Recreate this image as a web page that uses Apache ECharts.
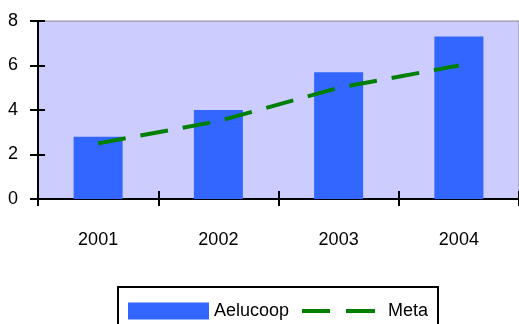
<!DOCTYPE html>
<html>
<head>
<meta charset="utf-8">
<script src="https://cdn.jsdelivr.net/npm/echarts@6/dist/echarts.min.js"></script>
<style>
  html, body { margin: 0; padding: 0; background: #fff; }
  #chart { width: 519px; height: 324px; }
</style>
</head>
<body>
<div id="chart"></div>
<script>
const years = ['2001', '2002', '2003', '2004']
const aelucoop = [2.8, 4.0, 5.7, 7.3]
const meta = [2.5, 3.5, 5.0, 6.0]
const yTicks = [0, 2, 4, 6, 8]

const font = "'Liberation Sans', Arial, sans-serif"
const tickStyle = { color: '#000', width: 2 }
const gridBox = { left: 38, top: 21, right: 0, bottom: 125 }
const plotWidth = 519 - gridBox.left - gridBox.right
const chart = echarts.init(document.getElementById('chart'))

chart.setOption({
  animation: false,
  textStyle: { fontFamily: font },
  grid: [
    Object.assign({
      show: true,
      backgroundColor: '#CCCCFF',
      borderColor: '#888888',
      borderWidth: 1
    }, gridBox),
    // same box again, carries the outer half of the crossing ticks
    Object.assign({ show: false }, gridBox)
  ],
  // box round the two legends
  graphic: [
    {
      type: 'rect',
      shape: { x: 118, y: 287, width: 320, height: 50 },
      style: { fill: '#fff', stroke: '#000', lineWidth: 2 },
      z: 0
    }
  ],
  legend: [
    {
      data: [{ name: 'Aelucoop', icon: 'rect' }],
      left: 123,
      top: 297,
      padding: 5,
      itemWidth: 81,
      itemHeight: 17,
      textStyle: { fontFamily: font, fontSize: 18, color: '#000' }
    },
    {
      data: [{ name: 'Meta', icon: 'path://M0,0H28V4H0Z M44,0H73V4H44Z' }],
      left: 297,
      top: 297,
      padding: 5,
      itemWidth: 73,
      itemHeight: 4,
      itemStyle: { color: '#008000' },
      textStyle: { fontFamily: font, fontSize: 18, color: '#000', padding: [0, 0, 0, 8] }
    }
  ],
  xAxis: [
    {
      type: 'category',
      gridIndex: 0,
      data: years,
      position: 'bottom',
      axisLine: { show: true, lineStyle: tickStyle },
      axisTick: { show: true, inside: true, length: 8, lineStyle: tickStyle },
      axisLabel: { fontFamily: font, fontSize: 18, color: '#000', margin: 32 },
      splitLine: { show: false }
    },
    {
      // placed on top but pulled down onto zero, its inside ticks point down
      type: 'category',
      gridIndex: 1,
      data: years,
      position: 'top',
      axisLine: { show: true, onZero: true, lineStyle: tickStyle },
      axisTick: { show: true, inside: true, length: 7, lineStyle: tickStyle },
      axisLabel: { show: false },
      splitLine: { show: false }
    }
  ],
  yAxis: [
    {
      type: 'value',
      gridIndex: 0,
      min: yTicks[0],
      max: yTicks[yTicks.length - 1],
      interval: 2,
      position: 'left',
      axisLine: { show: true, lineStyle: tickStyle },
      axisTick: { show: true, inside: true, length: 7, lineStyle: tickStyle },
      axisLabel: { fontFamily: font, fontSize: 18, color: '#000', margin: 20 },
      splitLine: { show: false }
    },
    {
      // right axis moved over to the left edge, its inside ticks point left
      type: 'value',
      gridIndex: 1,
      min: yTicks[0],
      max: yTicks[yTicks.length - 1],
      interval: 2,
      position: 'right',
      offset: -plotWidth,
      axisLine: { show: true, lineStyle: tickStyle },
      axisTick: { show: true, inside: true, length: 8, lineStyle: tickStyle },
      axisLabel: { show: false },
      splitLine: { show: false }
    }
  ],
  series: [
    {
      name: 'Aelucoop',
      type: 'bar',
      data: aelucoop,
      barWidth: 49,
      itemStyle: { color: '#3366FF' }
    },
    {
      name: 'Meta',
      type: 'line',
      xAxisIndex: 1,
      yAxisIndex: 1,
      data: meta,
      symbol: 'none',
      lineStyle: { color: '#008000', width: 4, type: [28, 15] },
      itemStyle: { color: '#008000' },
      z: 3
    }
  ]
})
</script>
</body>
</html>
